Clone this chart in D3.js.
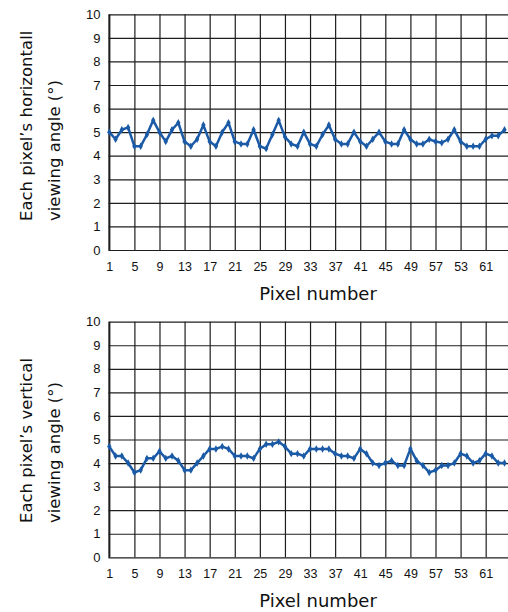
<!DOCTYPE html>
<html>
<head>
<meta charset="utf-8">
<script src="https://cdn.jsdelivr.net/npm/d3@7/dist/d3.min.js"></script>
<style>
  body { margin: 0; background: #fff; }
  svg { display: block; font-family: "DejaVu Sans", Verdana, sans-serif; }
</style>
</head>
<body>
<div id="chart"></div>
<script>
// values, one per pixel (1..64)
const horizontalAngle = [
  5.0, 4.7, 5.1, 5.2, 4.4, 4.4, 4.9, 5.5, 5.0, 4.6,
  5.1, 5.4, 4.6, 4.4, 4.7, 5.3, 4.6, 4.4, 5.0, 5.4,
  4.6, 4.5, 4.5, 5.1, 4.4, 4.3, 4.9, 5.5, 4.8, 4.5,
  4.4, 5.0, 4.5, 4.4, 4.9, 5.3, 4.7, 4.5, 4.5, 5.0,
  4.6, 4.4, 4.7, 5.0, 4.6, 4.5, 4.5, 5.1, 4.7, 4.5,
  4.5, 4.7, 4.6, 4.55, 4.7, 5.1, 4.6, 4.4, 4.4, 4.4,
  4.7, 4.85, 4.85, 5.1
];
const verticalAngle = [
  4.7, 4.3, 4.3, 4.0, 3.6, 3.7, 4.2, 4.2, 4.5, 4.2,
  4.3, 4.1, 3.7, 3.7, 4.0, 4.3, 4.6, 4.6, 4.7, 4.6,
  4.3, 4.3, 4.3, 4.2, 4.6, 4.8, 4.8, 4.9, 4.7, 4.4,
  4.4, 4.3, 4.6, 4.6, 4.6, 4.6, 4.4, 4.3, 4.3, 4.2,
  4.6, 4.4, 4.0, 3.9, 4.0, 4.1, 3.9, 3.9, 4.6, 4.1,
  3.9, 3.6, 3.7, 3.9, 3.9, 4.0, 4.4, 4.3, 4.0, 4.1,
  4.4, 4.3, 4.0, 4.0
];
const xTickValues = [1, 5, 9, 13, 17, 21, 25, 29, 33, 37, 41, 45, 49, 53, 57, 61];
// labels as printed in the original (57 and 53 are swapped there)
const xTickLabels = ["1", "5", "9", "13", "17", "21", "25", "29", "33", "37", "41", "45", "49", "57", "53", "61"];
const yTickValues = [0, 1, 2, 3, 4, 5, 6, 7, 8, 9, 10];
const xTitle = "Pixel number";
const horizontalTitle = ["Each pixel\u2019s horizontall", "viewing angle (\u00b0)"];
const verticalTitle = ["Each pixel\u2019s vertical", "viewing angle (\u00b0)"];

const width = 508;
const height = 612;
const left = 108.5;
const lineColor = "#1b5aa6";
const gridColor = "#1e1e1e";

const svg = d3.select("#chart")
  .append("svg")
  .attr("width", width)
  .attr("height", height);

const x = d3.scaleLinear()
  .domain([1, 64])
  .range([left + 0.8, 504.5]);

const panels = [
  { values: horizontalAngle, title: horizontalTitle, top: 14.3, bottom: 250, titleY: 221 },
  { values: verticalAngle, title: verticalTitle, top: 321.7, bottom: 557.3, titleY: 523 }
];

panels.forEach(p => {
  const y = d3.scaleLinear()
    .domain([0, 10])
    .range([p.bottom, p.top]);

  const g = svg.append("g");

  // vertical grid + x labels
  const xAxis = g.append("g")
    .attr("transform", `translate(0, ${p.bottom})`)
    .call(d3.axisBottom(x)
      .tickValues(xTickValues)
      .tickFormat((d, i) => xTickLabels[i])
      .tickSize(-(p.bottom - p.top))
      .tickSizeOuter(0));
  xAxis.select(".domain").remove();
  xAxis.selectAll(".tick line")
    .attr("stroke", gridColor)
    .attr("stroke-width", 1.2);
  xAxis.selectAll(".tick text")
    .attr("y", 20.5)
    .attr("dy", null)
    .attr("fill", "#111")
    .attr("font-size", "12.5px");

  // horizontal grid + y labels
  const yAxis = g.append("g")
    .attr("transform", `translate(${left}, 0)`)
    .call(d3.axisLeft(y)
      .tickValues(yTickValues)
      .tickSize(-(width - left))
      .tickSizeOuter(0)
      .tickPadding(8));
  yAxis.select(".domain")
    .attr("stroke", "#000")
    .attr("stroke-width", 1.2);
  yAxis.selectAll(".tick line")
    .attr("stroke", gridColor)
    .attr("stroke-width", 1.2);
  yAxis.selectAll(".tick text")
    .attr("fill", "#111")
    .attr("font-size", "13px");

  // series
  const line = d3.line()
    .x((d, i) => x(i + 1))
    .y(d => y(d));

  g.append("path")
    .datum(p.values)
    .attr("fill", "none")
    .attr("stroke", lineColor)
    .attr("stroke-width", 2.5)
    .attr("stroke-linejoin", "round")
    .attr("d", line);

  g.selectAll(".marker")
    .data(p.values)
    .enter()
    .append("path")
    .attr("class", "marker")
    .attr("transform", (d, i) => `translate(${x(i + 1)}, ${y(d)})`)
    .attr("d", d3.symbol(d3.symbolDiamond, 16))
    .attr("fill", lineColor);

  // axis titles
  g.append("text")
    .attr("x", 318)
    .attr("y", p.bottom + 49.5)
    .attr("text-anchor", "middle")
    .attr("font-size", "18px")
    .attr("fill", "#111")
    .text(xTitle);

  g.selectAll(".ytitle")
    .data(p.title)
    .enter()
    .append("text")
    .attr("class", "ytitle")
    .attr("transform", (d, i) => `translate(${32 + i * 28}, ${p.titleY}) rotate(-90)`)
    .attr("font-size", "16.5px")
    .attr("fill", "#111")
    .text(d => d);
});
</script>
</body>
</html>
